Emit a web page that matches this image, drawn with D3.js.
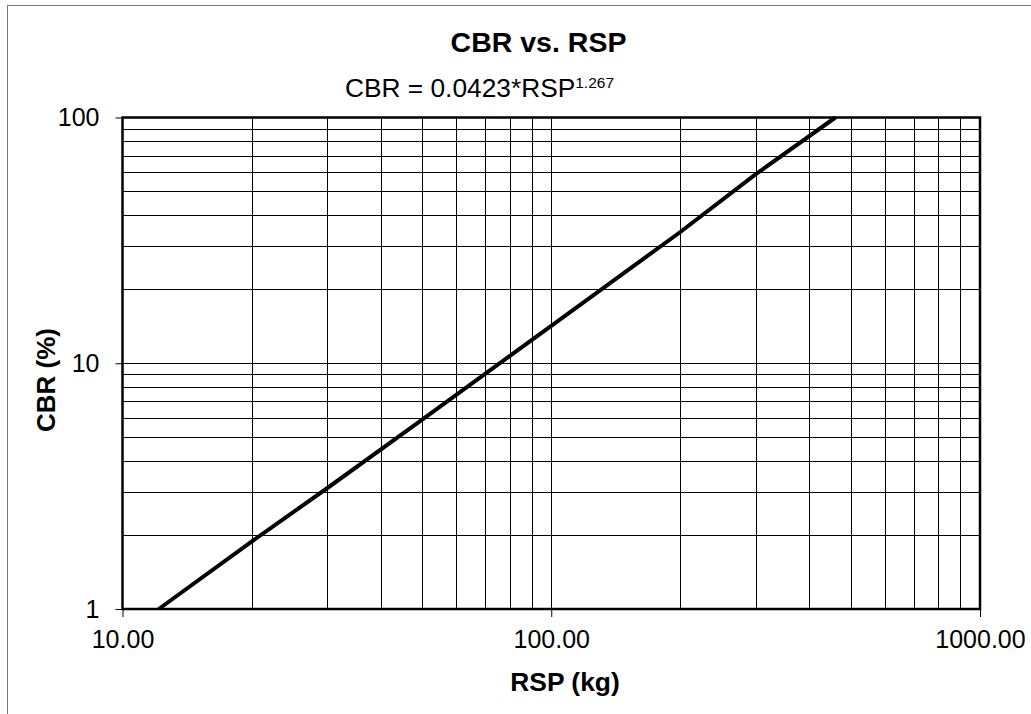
<!DOCTYPE html>
<html><head><meta charset="utf-8">
<script src="https://cdn.jsdelivr.net/npm/d3@7"></script>
<style>body{margin:0;background:#fff;} text{font-family:Arial,"Liberation Sans",sans-serif;}</style>
</head><body>
<svg id="c" width="1031" height="714"></svg>
<script>
const rsp = [12.15, 20, 30, 50, 100, 200, 300, 460];
const cbr = [1, 1.88, 3.1, 5.9, 14.2, 34.2, 58.8, 100];
const xTickValues = [10, 100, 1000];
const xTickLabels = ["10.00", "100.00", "1000.00"];
const yTickValues = [1, 10, 100];
const yTickLabels = ["1", "10", "100"];
const title = "CBR vs. RSP";
const xLabel = "RSP (kg)";
const yLabel = "CBR (%)";

const svg = d3.select("#c");
const L = 122.5, R = 980, T = 117.5, B = 609;
const x = d3.scaleLog().domain([10, 1000]).range([L, R]);
const y = d3.scaleLog().domain([1, 100]).range([B, T]);

svg.append("rect").attr("x", 7.5).attr("y", 5.5).attr("width", 1040).attr("height", 720)
  .attr("fill", "none").attr("stroke", "#777").attr("stroke-width", 1);

const minors = [];
[1, 10, 100].forEach(d => { for (let k = 2; k <= 9; k++) minors.push(d * k); });
const gx = minors.filter(v => v > 10 && v < 1000).concat([100]);
const gy = minors.filter(v => v > 1 && v < 100).concat([10]);

svg.append("g").selectAll("line").data(gx).join("line")
  .attr("x1", d => Math.round(x(d)) + 0.5).attr("x2", d => Math.round(x(d)) + 0.5)
  .attr("y1", T).attr("y2", B).attr("stroke", "#000").attr("stroke-width", 1);
svg.append("g").selectAll("line").data(gy).join("line")
  .attr("y1", d => Math.round(y(d)) + 0.5).attr("y2", d => Math.round(y(d)) + 0.5)
  .attr("x1", L).attr("x2", R).attr("stroke", "#000").attr("stroke-width", 1);

const xAxis = d3.axisBottom(x).tickValues(xTickValues).tickFormat((d, i) => xTickLabels[i]).tickSize(8).tickPadding(13);
const gX = svg.append("g").attr("transform", `translate(0,${B})`).call(xAxis);
gX.select(".domain").remove();
gX.attr("font-size", null).attr("font-family", null);
gX.selectAll("text").attr("font-size", 25).attr("fill", "#000");
const yAxis = d3.axisLeft(y).tickValues(yTickValues).tickFormat((d, i) => yTickLabels[i]).tickSize(7).tickPadding(16);
const gY = svg.append("g").attr("transform", `translate(${L},0)`).call(yAxis);
gY.select(".domain").remove();
gY.attr("font-size", null).attr("font-family", null);
gY.selectAll("text").attr("font-size", 25).attr("fill", "#000");

svg.append("rect").attr("x", L).attr("y", T).attr("width", R - L).attr("height", B - T)
  .attr("fill", "none").attr("stroke", "#000").attr("stroke-width", 2.5);

const pts = rsp.map((v, i) => [v, cbr[i]]);
svg.append("path").datum(pts)
  .attr("d", d3.line().x(d => x(d[0])).y(d => y(d[1])))
  .attr("fill", "none").attr("stroke", "#000").attr("stroke-width", 4);

svg.append("text").attr("x", 538.5).attr("y", 52).attr("text-anchor", "middle")
  .attr("font-size", 28.5).attr("font-weight", "bold").text(title);
const eq = svg.append("text").attr("x", 345).attr("y", 97).attr("font-size", 26.3);
eq.append("tspan").text("CBR = 0.0423*RSP");
eq.append("tspan").attr("font-size", 15.5).attr("dy", -9).text("1.267");
svg.append("text").attr("x", 565).attr("y", 691).attr("text-anchor", "middle")
  .attr("font-size", 26.4).attr("font-weight", "bold").text(xLabel);
svg.append("text").attr("transform", "translate(55,380) rotate(-90)").attr("text-anchor", "middle")
  .attr("font-size", 26).attr("font-weight", "bold").text(yLabel);
</script>
</body></html>
